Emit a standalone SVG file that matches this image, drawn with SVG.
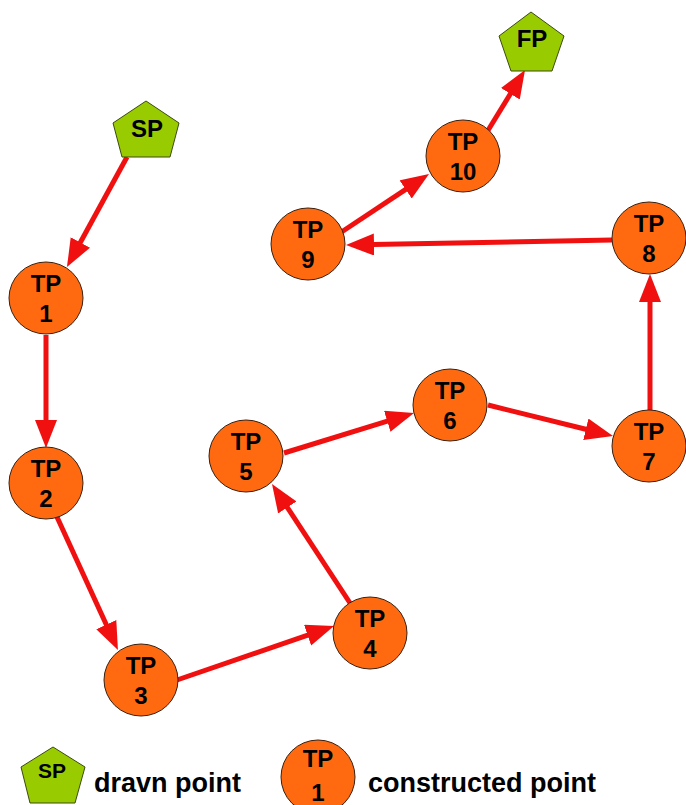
<svg xmlns="http://www.w3.org/2000/svg" width="686" height="805" viewBox="0 0 686 805">
<style>
.tp{fill:#ff6a10;stroke:#3a2010;stroke-width:1}
.pt{fill:#99cc00;stroke:#3a4a10;stroke-width:1}
.lbl{font-family:"Liberation Sans",Arial,sans-serif;font-weight:bold;font-size:24px;fill:#000;text-anchor:middle}
.leg{font-family:"Liberation Sans",Arial,sans-serif;font-weight:bold;font-size:27px;fill:#000}
.arr{stroke:#f01010;stroke-width:5;fill:none;marker-end:url(#ah)}
</style>
<defs>
<marker id="ah" markerUnits="userSpaceOnUse" markerWidth="30" markerHeight="24" refX="1" refY="11" orient="auto">
<path d="M0,0 L28,11 L0,22 Z" fill="#f01010"/>
</marker>
</defs>
<rect width="686" height="805" fill="#fff"/>
<g id="connectors">
<line class="arr" x1="127" y1="157" x2="79.9" y2="243.3"/>
<line class="arr" x1="46" y1="335" x2="46" y2="421"/>
<line class="arr" x1="57" y1="517" x2="106.7" y2="625.5"/>
<line class="arr" x1="177" y1="680" x2="308.5" y2="634.8"/>
<line class="arr" x1="350" y1="603" x2="286.8" y2="506.6"/>
<line class="arr" x1="284" y1="453" x2="388.2" y2="420.9"/>
<line class="arr" x1="488" y1="405" x2="586.8" y2="429.5"/>
<line class="arr" x1="650" y1="410" x2="650" y2="301"/>
<line class="arr" x1="612" y1="240" x2="373" y2="244.5"/>
<line class="arr" x1="340" y1="233" x2="406.5" y2="188.9"/>
<line class="arr" x1="487" y1="132" x2="510.9" y2="93"/>
</g>
<g id="SP">
<polygon class="pt" points="146,101 179,123 170,157 122,157 113,123"/>
<text class="lbl" x="147" y="137">SP</text>
</g>
<g id="FP">
<polygon class="pt" points="531,12 564,36 552,71 511,71 499,36"/>
<text class="lbl" x="532" y="47">FP</text>
</g>
<g id="TP1">
<ellipse class="tp" cx="46" cy="298" rx="37" ry="36"/>
<text class="lbl" x="46" y="292">TP</text><text class="lbl" x="46" y="322">1</text>
</g>
<g id="TP2">
<ellipse class="tp" cx="46" cy="483" rx="37" ry="36"/>
<text class="lbl" x="46" y="477">TP</text><text class="lbl" x="46" y="507">2</text>
</g>
<g id="TP3">
<ellipse class="tp" cx="141" cy="680" rx="37" ry="36"/>
<text class="lbl" x="141" y="674">TP</text><text class="lbl" x="141" y="704">3</text>
</g>
<g id="TP4">
<ellipse class="tp" cx="370" cy="633" rx="37" ry="36"/>
<text class="lbl" x="370" y="627">TP</text><text class="lbl" x="370" y="657">4</text>
</g>
<g id="TP5">
<ellipse class="tp" cx="246" cy="456" rx="37" ry="36"/>
<text class="lbl" x="246" y="450">TP</text><text class="lbl" x="246" y="480">5</text>
</g>
<g id="TP6">
<ellipse class="tp" cx="450" cy="405" rx="37" ry="36"/>
<text class="lbl" x="450" y="399">TP</text><text class="lbl" x="450" y="429">6</text>
</g>
<g id="TP7">
<ellipse class="tp" cx="649" cy="446" rx="37" ry="36"/>
<text class="lbl" x="649" y="440">TP</text><text class="lbl" x="649" y="470">7</text>
</g>
<g id="TP8">
<ellipse class="tp" cx="649" cy="238" rx="37" ry="36"/>
<text class="lbl" x="649" y="232">TP</text><text class="lbl" x="649" y="262">8</text>
</g>
<g id="TP9">
<ellipse class="tp" cx="308" cy="244" rx="37" ry="36"/>
<text class="lbl" x="308" y="238">TP</text><text class="lbl" x="308" y="268">9</text>
</g>
<g id="TP10">
<ellipse class="tp" cx="463" cy="156" rx="37" ry="36"/>
<text class="lbl" x="463" y="150">TP</text><text class="lbl" x="463" y="180">10</text>
</g>
<g id="legend">
<polygon class="pt" points="53,747 85,767 75,803 30,803 21,767"/>
<text class="lbl" x="52" y="778" style="font-size:21px">SP</text>
<text class="leg" x="94" y="792">dravn point</text>
<ellipse class="tp" cx="318" cy="777" rx="37" ry="37"/>
<text class="lbl" x="318" y="767">TP</text><text class="lbl" x="318" y="801">1</text>
<text class="leg" x="368" y="792">constructed point</text>
</g>
</svg>
